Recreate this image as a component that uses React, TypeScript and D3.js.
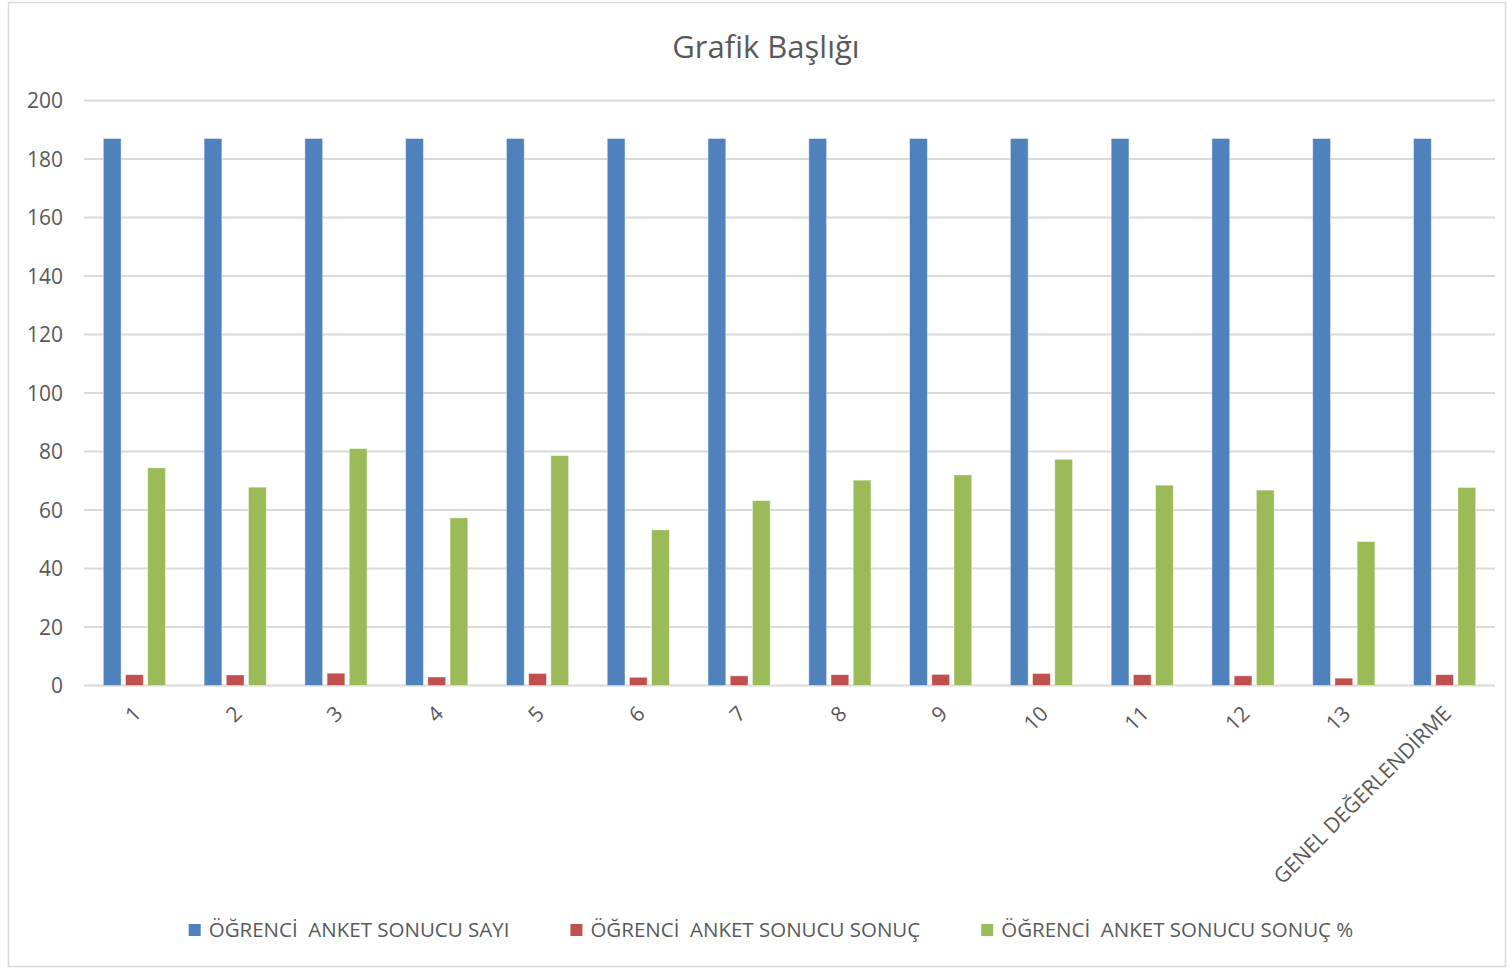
import * as d3 from "d3";
import React, {useEffect, useRef} from "react";

const categories = ["1", "2", "3", "4", "5", "6", "7", "8", "9", "10", "11", "12", "13", "GENEL DEĞERLENDİRME"];
const seriesNames = ["ÖĞRENCİ  ANKET SONUCU SAYI", "ÖĞRENCİ  ANKET SONUCU SONUÇ", "ÖĞRENCİ  ANKET SONUCU SONUÇ %"];
const sayiValues = [187, 187, 187, 187, 187, 187, 187, 187, 187, 187, 187, 187, 187, 187];
const sonucValues = [3.7, 3.6, 4.2, 2.9, 4.1, 2.8, 3.3, 3.7, 3.8, 4.1, 3.7, 3.3, 2.5, 3.7];
const yuzdeValues = [74.4, 67.8, 81.0, 57.3, 78.6, 53.2, 63.2, 70.2, 72.0, 77.3, 68.5, 66.8, 49.2, 67.7];
const yTicks = [0, 20, 40, 60, 80, 100, 120, 140, 160, 180, 200];
const colors = ["#4F81BD", "#C0504D", "#9BBB59"];
const title = "Grafik Başlığı";

const FONT = "'Open Sans', 'Noto Sans', sans-serif";
const TEXT = "#595959";

const App: React.FC = () => {
  const ref = useRef<SVGSVGElement | null>(null);

  useEffect(() => {
    const svg = d3.select(ref.current);
    svg.selectAll('*').remove();

    const width = 1508;
    const height = 969;
    const plot = {left: 84, right: 1495, top: 100.5, bottom: 685.5};

    // chart border
    svg.append('rect')
      .attr('x', 8.5).attr('y', 2.5)
      .attr('width', 1497).attr('height', 964)
      .attr('fill', '#fff')
      .attr('stroke', '#d9d9d9')
      .attr('stroke-width', 1.5);

    const series = [sayiValues, sonucValues, yuzdeValues];

    const y = d3.scaleLinear().domain([0, 200]).range([plot.bottom, plot.top]);
    const x0 = d3.scaleBand<string>().domain(categories).range([plot.left, plot.right]).padding(0);
    const x1 = d3.scaleBand<number>()
      .domain([0, 1, 2])
      .range([0, x0.bandwidth()])
      .paddingInner(0.2)
      .paddingOuter(0.87);

    // gridlines
    svg.append('g')
      .selectAll('line')
      .data(yTicks)
      .enter()
      .append('line')
      .attr('x1', plot.left)
      .attr('x2', plot.right)
      .attr('y1', (d) => y(d))
      .attr('y2', (d) => y(d))
      .attr('stroke', '#d9d9d9')
      .attr('stroke-width', 1.8);

    // y labels
    svg.append('g')
      .selectAll('text')
      .data(yTicks)
      .enter()
      .append('text')
      .attr('x', 63)
      .attr('y', (d) => y(d))
      .attr('dy', '0.36em')
      .attr('text-anchor', 'end')
      .attr('fill', TEXT)
      .style('font-family', FONT)
      .style('font-size', '21px')
      .text((d) => d);

    // bars
    const groups = svg.append('g')
      .selectAll('g')
      .data(categories)
      .enter()
      .append('g')
      .attr('transform', (d) => `translate(${x0(d)}, 0)`);

    groups.selectAll('rect')
      .data((_, i) => series.map((s, k) => ({k, v: s[i]})))
      .enter()
      .append('rect')
      .attr('x', (d) => x1(d.k) as number)
      .attr('y', (d) => y(d.v))
      .attr('width', x1.bandwidth())
      .attr('height', (d) => plot.bottom - y(d.v))
      .attr('fill', (d) => colors[d.k])
      .attr('stroke', '#ffffff')
      .attr('stroke-opacity', 0.5)
      .attr('stroke-width', 0.8);

    // x labels, rotated
    svg.append('g')
      .selectAll('text')
      .data(categories)
      .enter()
      .append('text')
      .attr('transform', (d) => `translate(${(x0(d) as number) + x0.bandwidth() / 2 + 8}, 715) rotate(-45)`)
      .attr('text-anchor', 'end')
      .attr('fill', TEXT)
      .style('font-family', FONT)
      .style('font-size', '21px')
      .text((d) => d);

    // title
    svg.append('text')
      .attr('x', 766)
      .attr('y', 58)
      .attr('text-anchor', 'middle')
      .attr('fill', TEXT)
      .style('font-family', FONT)
      .style('font-size', '31px')
      .text(title);

    // legend
    const legend = svg.append('g');
    const sq = 12;
    const gapText = 8;
    const gapItem = 61;
    let cursor = 0;
    seriesNames.forEach((name, i) => {
      const item = legend.append('g').attr('transform', `translate(${cursor}, 0)`);
      item.append('rect')
        .attr('x', 0).attr('y', -sq / 2)
        .attr('width', sq).attr('height', sq)
        .attr('fill', colors[i]);
      const t = item.append('text')
        .attr('x', sq + gapText)
        .attr('y', 0)
        .attr('dy', '0.36em')
        .attr('fill', TEXT)
        .style('font-family', FONT)
        .style('font-size', '20.5px')
        .style('white-space', 'pre')
        .text(name);
      const len = (t.node() as SVGTextElement).getComputedTextLength();
      cursor += sq + gapText + len + gapItem;
    });
    const total = cursor - gapItem;
    legend.attr('transform', `translate(${771 - total / 2}, 930)`);

    svg.attr('width', width).attr('height', height);

    return () => {
      svg.selectAll('*').remove();
    };
  }, []);

  return <svg ref={ref} style={{position: 'absolute', left: 0, top: 0}} />;
};

export default App;
